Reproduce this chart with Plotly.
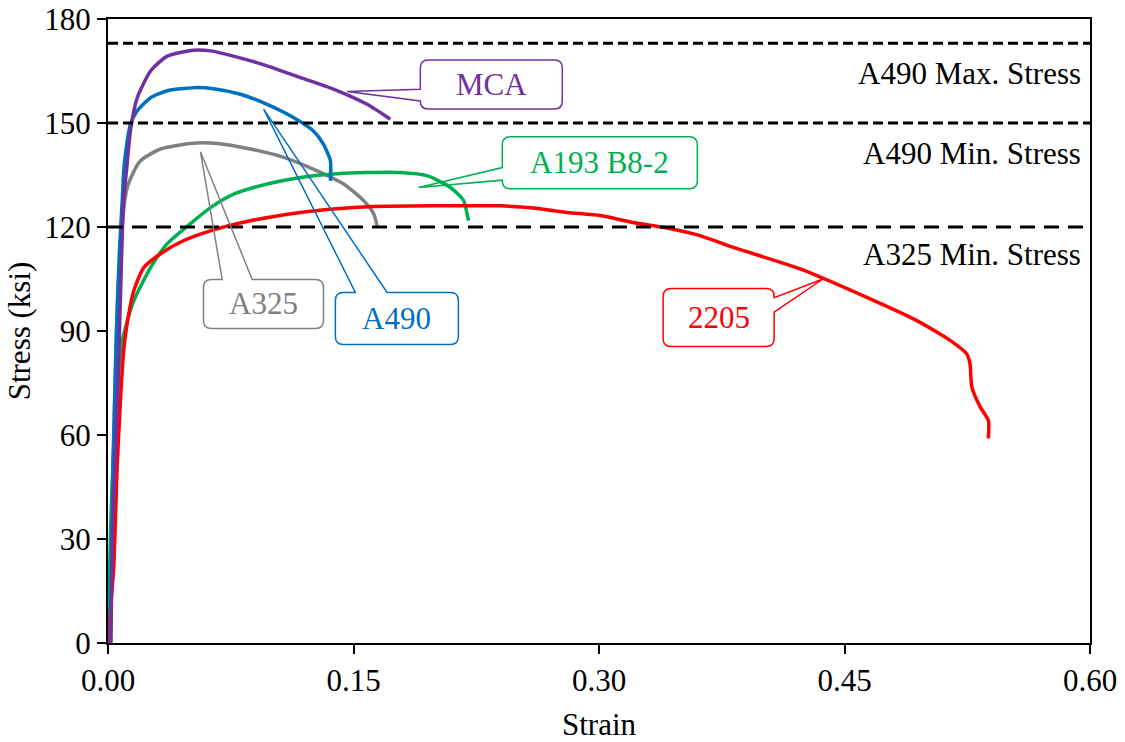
import plotly.graph_objects as go

# ---------------- data ----------------
mca_strain = [0.0018, 0.0021, 0.0027, 0.0046, 0.0064, 0.0081, 0.0095, 0.0113, 0.0137, 0.0178,
              0.0260, 0.0362, 0.0522, 0.0626, 0.0766, 0.0972, 0.1176, 0.1377, 0.1583, 0.1725]
mca_stress = [0.0, 12.4, 31.7, 55.6, 79.5, 108.3, 127.6, 136.2, 147.7, 157.2,
              165.0, 169.3, 171.0, 170.8, 169.3, 166.5, 163.1, 159.8, 155.4, 151.1]

a490_strain = [0.0015, 0.0021, 0.0034, 0.0052, 0.0070, 0.0087, 0.0096, 0.0113, 0.0137, 0.0178,
               0.0260, 0.0362, 0.0522, 0.0644, 0.0809, 0.0972, 0.1133, 0.1255, 0.1316, 0.1359, 0.1359]
a490_stress = [0.0, 23.9, 55.6, 90.1, 113.2, 127.6, 136.2, 143.4, 149.7, 153.5,
               157.3, 159.3, 160.2, 159.9, 158.3, 155.4, 151.6, 147.7, 143.9, 139.1, 133.3]

a325_strain = [0.0009, 0.0021, 0.0040, 0.0058, 0.0076, 0.0095, 0.0113, 0.0137, 0.0198, 0.0321,
               0.0504, 0.0667, 0.0870, 0.1074, 0.1278, 0.1440, 0.1562, 0.1623, 0.1644]
a325_stress = [0.0, 32.5, 70.0, 98.8, 113.2, 124.7, 130.5, 133.9, 139.1, 142.5,
               144.1, 144.1, 142.5, 140.1, 136.2, 132.4, 127.6, 123.8, 120.4]

a193_strain = [0.0, 0.0015, 0.0034, 0.0056, 0.0076, 0.0107, 0.0158, 0.0260, 0.0362, 0.0504,
               0.0626, 0.0768, 0.0972, 0.1176, 0.1379, 0.1583, 0.1786, 0.1949, 0.2092, 0.2173,
               0.2194, 0.2203]
a193_stress = [0.0, 31.7, 55.6, 70.0, 84.4, 91.0, 98.8, 108.3, 115.2, 121.0,
               125.6, 129.5, 132.4, 134.3, 135.3, 135.7, 135.7, 134.8, 131.4, 127.6,
               123.8, 121.8]

d2205_strain = [0.0003, 0.0015, 0.0035, 0.0056, 0.0076, 0.0096, 0.0117, 0.0158, 0.0219, 0.0321,
                0.0463, 0.0626, 0.0870, 0.1176, 0.1377, 0.1621, 0.1988, 0.2397, 0.2599, 0.2804,
                0.3008, 0.3209, 0.3415, 0.3617, 0.3822, 0.4229, 0.4636, 0.4942, 0.5145, 0.5247,
                0.5267, 0.5278, 0.5329, 0.5379, 0.5379]
d2205_stress = [0.0, 9.5, 21.9, 50.7, 70.0, 84.4, 92.2, 101.7, 108.3, 112.3,
                116.1, 118.9, 121.8, 124.2, 125.2, 125.9, 126.1, 126.1, 125.5, 124.2,
                123.3, 121.3, 119.7, 117.5, 114.1, 107.9, 99.7, 93.0, 87.3, 83.4,
                80.5, 73.8, 68.1, 64.2, 59.0]

limit_values = [173, 150, 120]
limit_labels = ["A490 Max. Stress", "A490 Min. Stress", "A325 Min. Stress"]
limit_label_y = [164.4, 141.1, 112.0]

x_ticks = [0.0, 0.15, 0.30, 0.45, 0.60]
y_ticks = [0, 30, 60, 90, 120, 150, 180]

# ---------------- styling / layout ----------------
PURPLE, BLUE, GRAY, GREEN, RED = "#7030A0", "#0070C0", "#808080", "#00B050", "#FF0000"
FONT = "Liberation Serif, Times New Roman, serif"
FS = 31
W, H = 1125, 742
MARG = dict(l=108, r=35, t=19, b=99, autoexpand=False)
X_RANGE = [0, 0.6]
Y_RANGE = [0, 180]
SX = (X_RANGE[1] - X_RANGE[0]) / (W - MARG["l"] - MARG["r"])  # data per px
SY = (Y_RANGE[1] - Y_RANGE[0]) / (H - MARG["t"] - MARG["b"])

fig = go.Figure()

series = [
    (a325_strain, a325_stress, GRAY, "A325"),
    (a193_strain, a193_stress, GREEN, "A193 B8-2"),
    (d2205_strain, d2205_stress, RED, "2205"),
    (a490_strain, a490_stress, BLUE, "A490"),
    (mca_strain, mca_stress, PURPLE, "MCA"),
]
for xs, ys, col, name in series:
    fig.add_trace(go.Scatter(x=xs, y=ys, mode="lines", name=name,
                             line=dict(color=col, width=3.5, shape="spline", smoothing=0.6),
                             hoverinfo="skip"))

dashes = ["10px,5px", "10px,5px", "15px,9px"]
for val, dash in zip(limit_values, dashes):
    fig.add_trace(go.Scatter(x=[X_RANGE[0], X_RANGE[1]], y=[val, val], mode="lines",
                             line=dict(color="black", width=3, dash=dash), hoverinfo="skip"))

for lab, ly in zip(limit_labels, limit_label_y):
    fig.add_annotation(x=0.993, xref="paper", y=ly, yref="y", text=lab, showarrow=False,
                       xanchor="right", yanchor="middle",
                       font=dict(family=FONT, size=FS, color="black"))

# callout boxes: centre (data), size (px), side of pointer, pointer base offsets (px), tip (data)
callouts = [
    dict(text="MCA", color=PURPLE, cx=0.2342, cy=161.1, w=142, h=49, side="left",
         base=(4.8, 16.5), tip=(0.1461, 159.1)),
    dict(text="A193 B8-2", color=GREEN, cx=0.3005, cy=138.5, w=195, h=52, side="left",
         base=(4.7, 17.3), tip=(0.1898, 131.4)),
    dict(text="A490", color=BLUE, cx=0.1765, cy=93.6, w=123, h=52, side="top",
         base=(-41.5, -9.8), tip=(0.0951, 154.0)),
    dict(text="A325", color=GRAY, cx=0.0950, cy=97.8, w=120, h=49, side="top",
         base=(-41.3, -11.3), tip=(0.0565, 141.7)),
    dict(text="2205", color=RED, cx=0.3731, cy=93.9, w=111, h=58, side="right",
         base=(-19.7, -5.3), tip=(0.4368, 105.0)),
]


def f(v):
    return f"{v:.6f}"


def callout_path(c, rad=8):
    cx, cy = c["cx"], c["cy"]
    L = cx - c["w"] / 2 * SX
    R = cx + c["w"] / 2 * SX
    T = cy + c["h"] / 2 * SY
    B = cy - c["h"] / 2 * SY
    rx, ry = rad * SX, rad * SY
    tx, ty = c["tip"]
    o1, o2 = c["base"]
    p = [f"M {f(L + rx)} {f(T)}"]
    if c["side"] == "top":
        p += [f"L {f(cx + o1 * SX)} {f(T)}", f"L {f(tx)} {f(ty)}", f"L {f(cx + o2 * SX)} {f(T)}"]
    p += [f"L {f(R - rx)} {f(T)}", f"Q {f(R)} {f(T)} {f(R)} {f(T - ry)}"]
    if c["side"] == "right":
        p += [f"L {f(R)} {f(cy - o1 * SY)}", f"L {f(tx)} {f(ty)}", f"L {f(R)} {f(cy - o2 * SY)}"]
    p += [f"L {f(R)} {f(B + ry)}", f"Q {f(R)} {f(B)} {f(R - rx)} {f(B)}",
          f"L {f(L + rx)} {f(B)}", f"Q {f(L)} {f(B)} {f(L)} {f(B + ry)}"]
    if c["side"] == "left":
        p += [f"L {f(L)} {f(cy - o2 * SY)}", f"L {f(tx)} {f(ty)}", f"L {f(L)} {f(cy - o1 * SY)}"]
    p += [f"L {f(L)} {f(T - ry)}", f"Q {f(L)} {f(T)} {f(L + rx)} {f(T)}", "Z"]
    return " ".join(p)


for c in callouts:
    fig.add_shape(type="path", path=callout_path(c), xref="x", yref="y",
                  line=dict(color=c["color"], width=1.5), fillcolor="rgba(0,0,0,0)",
                  layer="above")
    fig.add_annotation(x=c["cx"], y=c["cy"], text=c["text"], showarrow=False,
                       xanchor="center", yanchor="middle",
                       font=dict(family=FONT, size=FS, color=c["color"]))

axis_common = dict(showgrid=False, showline=True, linecolor="black", linewidth=2, mirror=True,
                   ticks="outside", ticklen=9, tickwidth=2, tickcolor="black", automargin=False,
                   tickfont=dict(family=FONT, size=FS, color="black"))

fig.update_layout(
    width=W, height=H, margin=MARG, showlegend=False, hovermode=False,
    paper_bgcolor="white", plot_bgcolor="white",
    font=dict(family=FONT, size=FS, color="black"),
    xaxis=dict(range=X_RANGE, tickvals=x_ticks, ticktext=[f"{v:.2f}" for v in x_ticks],
               zeroline=False,
               title=dict(text="Strain", font=dict(family=FONT, size=FS), standoff=19),
               **axis_common),
    yaxis=dict(range=Y_RANGE, tickvals=y_ticks, zeroline=True, zerolinecolor="black",
               zerolinewidth=3,
               title=dict(text="Stress (ksi)", font=dict(family=FONT, size=FS), standoff=4),
               **axis_common),
)

fig.write_html("out.html", config={"displayModeBar": False},
               post_script="document.body.style.margin='0';document.body.style.padding='0';"
                           "document.documentElement.style.margin='0';")
